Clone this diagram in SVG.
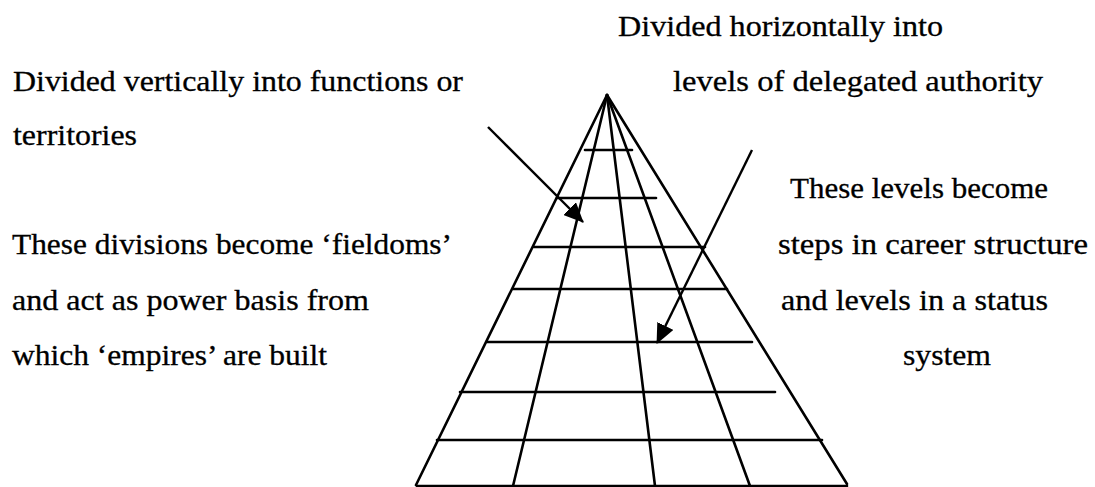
<svg xmlns="http://www.w3.org/2000/svg" width="1095" height="487" viewBox="0 0 1095 487">
<style>
.t{font-family:"Liberation Serif","Times New Roman",serif;font-size:29px;fill:#000;stroke:#000;stroke-width:0.3}
.ln{stroke:#000;stroke-width:2.6;fill:none;stroke-linecap:round}
.arr{stroke:#000;stroke-width:2.4;fill:none}
</style>
<defs>
<marker id="ah" viewBox="0 0 20 18" refX="19" refY="9" markerWidth="20" markerHeight="18" markerUnits="userSpaceOnUse" orient="auto">
<path d="M0,0 L20,9 L0,18 Z" fill="#000"/>
</marker>
</defs>
<rect width="1095" height="487" fill="#fff"/>
<g id="pyramid">
<line class="ln" x1="607" y1="95" x2="416" y2="485"/>
<line class="ln" x1="607" y1="95" x2="513" y2="486"/>
<line class="ln" x1="607" y1="95" x2="655" y2="486"/>
<line class="ln" x1="607" y1="95" x2="750" y2="486"/>
<line class="ln" x1="607" y1="95" x2="847" y2="484"/>
<line class="ln" x1="585" y1="150" x2="632" y2="150"/>
<line class="ln" x1="557" y1="198" x2="656" y2="198"/>
<line class="ln" x1="534" y1="247" x2="705" y2="247"/>
<line class="ln" x1="513" y1="289" x2="727" y2="289"/>
<line class="ln" x1="487" y1="342" x2="752" y2="342"/>
<line class="ln" x1="460" y1="392" x2="775" y2="392"/>
<line class="ln" x1="437" y1="440" x2="822" y2="440"/>
<line class="ln" x1="417" y1="486" x2="847" y2="486"/>
</g>
<g id="connectors">
<line class="arr" x1="488" y1="127" x2="583" y2="222" marker-end="url(#ah)"/>
<line class="arr" x1="752" y1="150" x2="657" y2="343" marker-end="url(#ah)"/>
</g>
<g id="label-vertical">
<text class="t" x="13" y="91" textLength="450" lengthAdjust="spacingAndGlyphs">Divided vertically into functions or</text>
<text class="t" x="13" y="145" textLength="124" lengthAdjust="spacingAndGlyphs">territories</text>
</g>
<g id="label-horizontal">
<text class="t" x="618" y="36" textLength="325" lengthAdjust="spacingAndGlyphs">Divided horizontally into</text>
<text class="t" x="673" y="91" textLength="370" lengthAdjust="spacingAndGlyphs">levels of delegated authority</text>
</g>
<g id="label-fiefdoms">
<text class="t" x="12" y="254" textLength="440" lengthAdjust="spacingAndGlyphs">These divisions become ‘fieldoms’</text>
<text class="t" x="12" y="310" textLength="357" lengthAdjust="spacingAndGlyphs">and act as power basis from</text>
<text class="t" x="12" y="365" textLength="315" lengthAdjust="spacingAndGlyphs">which ‘empires’ are built</text>
</g>
<g id="label-levels">
<text class="t" x="790" y="198" textLength="258" lengthAdjust="spacingAndGlyphs">These levels become</text>
<text class="t" x="778" y="254" textLength="310" lengthAdjust="spacingAndGlyphs">steps in career structure</text>
<text class="t" x="781" y="310" textLength="267" lengthAdjust="spacingAndGlyphs">and levels in a status</text>
<text class="t" x="903" y="365" textLength="88" lengthAdjust="spacingAndGlyphs">system</text>
</g>
</svg>
